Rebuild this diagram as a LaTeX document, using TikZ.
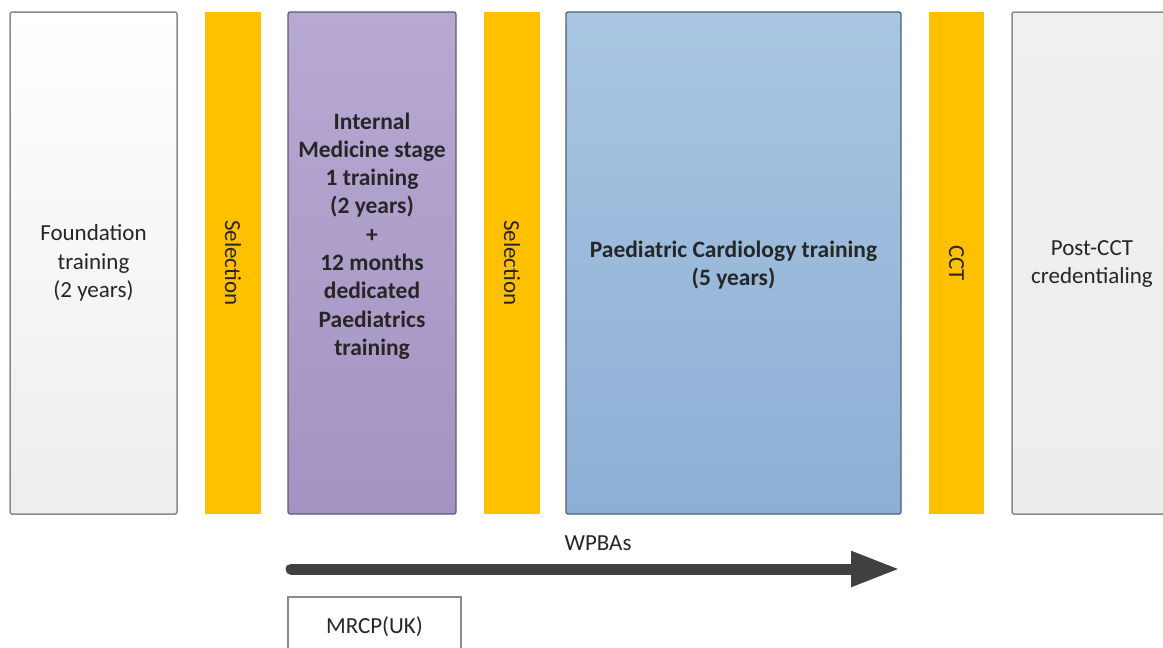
\documentclass[tikz,border=0pt]{standalone}
\usepackage{fontspec}
\setmainfont{Carlito}
\usetikzlibrary{arrows.meta}
\definecolor{selyellow}{HTML}{FFC000}
\definecolor{greyline}{HTML}{8A8A8A}
\definecolor{purpletop}{HTML}{B6A9D2}
\definecolor{purplebot}{HTML}{A493C2}
\definecolor{purpleline}{HTML}{5E5A6E}
\definecolor{bluetop}{HTML}{A9C5E2}
\definecolor{bluebot}{HTML}{8CAFD5}
\definecolor{blueline}{HTML}{4F5D70}
\definecolor{arrowgrey}{HTML}{404040}
\definecolor{textdark}{HTML}{262626}
\tikzset{
  base/.style={inner sep=0pt, align=center, text=textdark, font=\fontsize{23}{28.5}\selectfont},
  boldtext/.style={base, font=\fontsize{23.5}{28.3}\selectfont\bfseries},
  greybox/.style={base, draw=greyline, line width=1.5pt, rounded corners=2pt, top color=white, bottom color=black!7},
  purplebox/.style={boldtext, draw=purpleline, line width=1.2pt, rounded corners=2pt, top color=purpletop, bottom color=purplebot},
  bluebox/.style={boldtext, draw=blueline, line width=1.2pt, rounded corners=2pt, top color=bluetop, bottom color=bluebot},
  selbar/.style={base, fill=selyellow, minimum width=56pt, minimum height=502pt},
  tall/.style={minimum height=502pt},
  plainbox/.style={base, draw=greyline, line width=1.5pt, fill=white}
}
\begin{document}
\begin{tikzpicture}[x=1pt,y=-1pt]
\useasboundingbox (0,0) rectangle (1163,648);
\node[greybox, tall, minimum width=167pt] (found) at (93.5,263) {Foundation\\training\\(2 years)};
\node[selbar] (sel1) at (233,263) {\rotatebox{-90}{Selection}};
\node[purplebox, tall, minimum width=168pt] (imt) at (372,263) {};
\node[boldtext] (imttext) at (372,236) {Internal\\Medicine stage\\1 training\\(2 years)\\+\\12 months\\dedicated\\Paediatrics\\training};
\node[selbar] (sel2) at (512,263) {\rotatebox{-90}{Selection}};
\node[bluebox, tall, minimum width=335pt] (pc) at (733.5,263) {};
\node[boldtext] (pctext) at (733.5,265) {Paediatric Cardiology training\\(5 years)};
\node[selbar, minimum width=55pt] (cct) at (956.5,263) {\rotatebox{-90}{CCT}};
\node[greybox, tall, minimum width=160pt, top color=black!6, bottom color=black!7] (post) at (1092,263) {};
\node[base] (posttext) at (1092,264) {Post-CCT\\credentialing};
\coordinate (astart) at (291,569);
\coordinate (aend) at (900,569);
\draw[arrowgrey, line width=11pt, line cap=round, -{Triangle[length=49pt,width=33pt]}] (astart) -- (aend);
\node[base] (wpba) at (598,543) {WPBAs};
\node[plainbox, minimum width=173pt, minimum height=70pt] (mrcp) at (374.5,632) {};
\node[base] (mrcptxt) at (374.5,627) {MRCP(UK)};
\end{tikzpicture}
\end{document}
